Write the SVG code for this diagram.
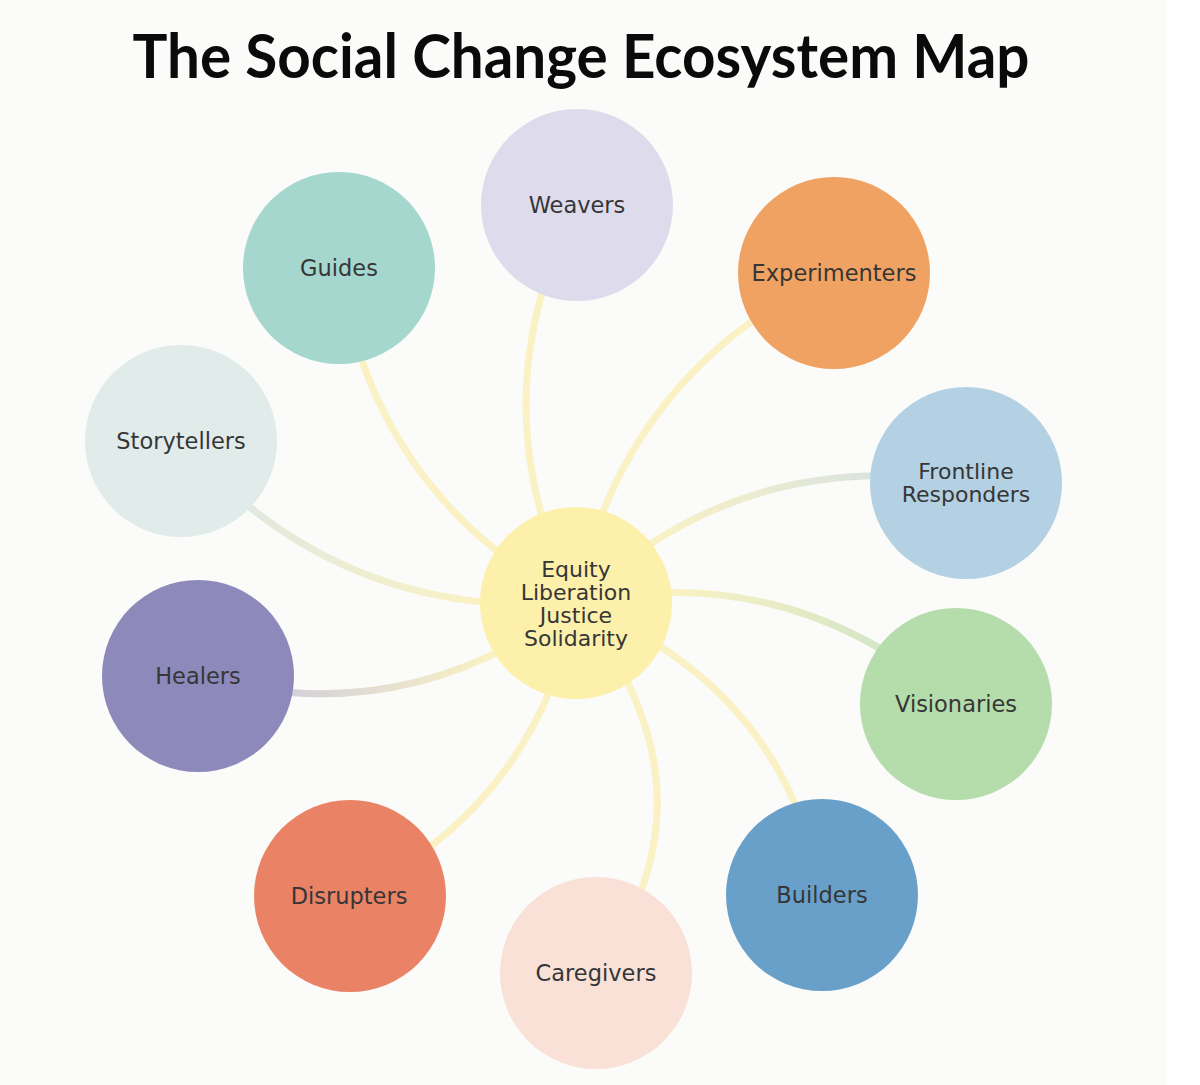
<svg xmlns="http://www.w3.org/2000/svg" width="1200" height="1085" viewBox="0 0 1200 1085">
<style>
.lbl{font-family:"DejaVu Sans","Liberation Sans",sans-serif;font-size:22.5px;fill:#363636;text-anchor:middle}
.ctr{font-size:22px}
.edge{fill:none;stroke-width:7;stroke-linecap:butt}
.y{stroke:#faf2c4}
.title{font-family:Lato,"Liberation Sans",sans-serif;font-weight:700;font-size:61px;fill:#0a0a0a}
</style>
<defs>
<linearGradient id="gStory" gradientUnits="userSpaceOnUse" x1="480" y1="603" x2="253" y2="510"><stop offset="0" stop-color="#faf2c4"/><stop offset="1" stop-color="#e2e9de"/></linearGradient>
<linearGradient id="gHeal" gradientUnits="userSpaceOnUse" x1="490" y1="655" x2="294" y2="690"><stop offset="0" stop-color="#faf2c4"/><stop offset="1" stop-color="#d4d1d9"/></linearGradient>
<linearGradient id="gFront" gradientUnits="userSpaceOnUse" x1="653" y1="542" x2="870" y2="475"><stop offset="0" stop-color="#faf2c4"/><stop offset="1" stop-color="#dae4de"/></linearGradient>
<linearGradient id="gVis" gradientUnits="userSpaceOnUse" x1="672" y1="592" x2="880" y2="650"><stop offset="0" stop-color="#faf2c4"/><stop offset="1" stop-color="#d4e6c6"/></linearGradient>
</defs>
<rect x="0" y="0" width="1200" height="1085" fill="#ffffff"/>
<rect x="0" y="0" width="1167" height="1085" fill="#fbfbf9"/>
<text class="title" x="581" y="78" text-anchor="middle" textLength="897" lengthAdjust="spacingAndGlyphs">The Social Change Ecosystem Map</text>
<g id="connectors">
<path class="edge y" d="M576,603 Q475.5,404 577,205"/>
<path class="edge y" d="M576,603 Q622.5,373.5 834,273"/>
<path class="edge y" d="M576,603 Q373.75,494.75 339,268"/>
<path class="edge" stroke="url(#gStory)" d="M576,603 Q338,620.75 181,441"/>
<path class="edge" stroke="url(#gHeal)" d="M576,603 Q405,734 198,676"/>
<path class="edge y" d="M576,603 Q536,806 350,896"/>
<path class="edge y" d="M576,603 Q728,792 596,973"/>
<path class="edge y" d="M576,603 Q785,687 822,895"/>
<path class="edge" stroke="url(#gVis)" d="M576,603 Q791.25,558.5 956,704"/>
<path class="edge" stroke="url(#gFront)" d="M576,603 Q741,445.5 966,483"/>
</g>
<g id="center"><circle cx="576" cy="603" r="96" fill="#fcf0ab"/>
<text class="lbl ctr" x="576" y="577"><tspan x="576" y="577">Equity</tspan><tspan x="576" y="600">Liberation</tspan><tspan x="576" y="623">Justice</tspan><tspan x="576" y="646">Solidarity</tspan></text></g>
<g id="weavers"><circle cx="577" cy="205" r="96" fill="#dedcec"/><text class="lbl" x="577" y="213">Weavers</text></g>
<g id="experimenters"><circle cx="834" cy="273" r="96" fill="#f0a262"/><text class="lbl" x="834" y="281">Experimenters</text></g>
<g id="guides"><circle cx="339" cy="268" r="96" fill="#a6d7cf"/><text class="lbl" x="339" y="276">Guides</text></g>
<g id="storytellers"><circle cx="181" cy="441" r="96" fill="#e1ecea"/><text class="lbl" x="181" y="449">Storytellers</text></g>
<g id="frontline"><circle cx="966" cy="483" r="96" fill="#b4d0e3"/><text class="lbl ctr" x="966" y="479"><tspan x="966" y="479">Frontline</tspan><tspan x="966" y="502">Responders</tspan></text></g>
<g id="healers"><circle cx="198" cy="676" r="96" fill="#8d89bb"/><text class="lbl" x="198" y="684">Healers</text></g>
<g id="visionaries"><circle cx="956" cy="704" r="96" fill="#b5dcab"/><text class="lbl" x="956" y="712">Visionaries</text></g>
<g id="disrupters"><circle cx="350" cy="896" r="96" fill="#ea8265"/><text class="lbl" x="349" y="904">Disrupters</text></g>
<g id="builders"><circle cx="822" cy="895" r="96" fill="#68a0c9"/><text class="lbl" x="822" y="903">Builders</text></g>
<g id="caregivers"><circle cx="596" cy="973" r="96" fill="#f9e1d8"/><text class="lbl" x="596" y="981">Caregivers</text></g>
</svg>
